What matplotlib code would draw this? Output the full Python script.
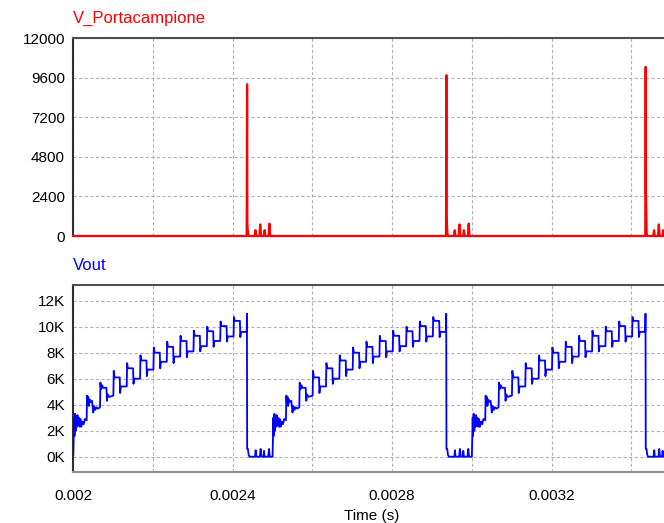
import matplotlib
matplotlib.use("Agg")
import matplotlib.pyplot as plt
import numpy as np

plt.rcParams['font.family'] = ['Liberation Sans', 'DejaVu Sans']

# ---------------- data ----------------
x_start, x_end = 0.002, 0.003482
cycle_starts = [0.0020, 0.0025, 0.0030]          # s, start of each Vout ramp

# Vout, one ramp cycle (times in microseconds from cycle start, values in kV)
vout_t_us = [0, 1, 2, 3, 4.5, 6, 7.5, 9, 10.5, 12, 14, 16, 18, 20, 23, 26, 29, 33.5,
             34.5, 36, 37.5, 39, 41, 43, 47, 50, 52, 55, 58, 62, 67,
             68, 70, 72, 75, 83, 84.5, 86, 90, 100.5,
             101.5, 103.5, 116.5, 117.5, 119.5, 134,
             135, 137, 150, 151, 153, 167.5,
             168.5, 170.5, 183.5, 184.5, 186.5, 201,
             202, 204, 217, 218, 220, 234.5,
             235.5, 237.5, 250.5, 251.5, 253.5, 268,
             269, 271, 284, 285, 287, 301.5,
             302.5, 304.5, 317.5, 318.5, 320.5, 335,
             336, 338, 351, 352, 354, 368.5,
             369.5, 371.5, 384.5, 385.5, 387.5, 402,
             403, 405, 418, 419, 421, 435,
             435.6, 436.2, 438, 440, 442, 456, 457.5, 459, 468, 470, 472,
             477, 478.5, 480, 489, 491, 493, 500]
vout_kv = [0.1, 1.5, 3.0, 1.6, 3.3, 2.0, 3.1, 2.3, 3.2, 2.4, 3.0, 2.3, 2.9, 2.3, 2.7, 2.5, 2.9, 2.8,
           4.7, 4.0, 4.6, 3.9, 4.4, 4.2, 4.3, 3.4, 3.9, 3.6, 3.8, 3.7, 3.8,
           5.7, 5.2, 5.5, 5.3, 5.3, 4.3, 4.8, 4.6, 4.7,
           6.6, 6.1, 6.1, 4.9, 5.4, 5.4,
           7.2, 6.8, 6.8, 5.6, 6.0, 6.0,
           7.8, 7.4, 7.4, 6.2, 6.7, 6.7,
           8.4, 8.0, 8.0, 6.8, 7.3, 7.3,
           8.85, 8.45, 8.45, 7.2, 7.7, 7.7,
           9.3, 8.9, 8.9, 7.65, 8.1, 8.1,
           9.7, 9.3, 9.3, 8.1, 8.5, 8.5,
           10.0, 9.65, 9.65, 8.45, 8.9, 8.9,
           10.4, 10.05, 10.05, 8.85, 9.25, 9.25,
           10.75, 10.45, 10.45, 9.2, 9.6, 9.6,
           11.0, 0.6, 0.6, 0.15, 0.0, 0.0, 0.5, 0.0, 0.0, 0.6, 0.0,
           0.0, 0.45, 0.0, 0.0, 0.6, 0.0, 0.0]

# V_Portacampione: spike at each Vout drop (times in microseconds from the drop)
drop_times = [0.002436, 0.002936, 0.003436]
spike_peak = [9200, 9750, 10250]
spike_after = [700, 1200, 2700]
red_t_us = [-1, 0, 0.7, 1.5, 2.5, 4, 19, 21, 23, 31, 33, 35, 42, 44, 46, 54, 56, 58]
red_shape = [0, None, 'a', 'b', 150, 0, 0, 350, 0, 0, 700, 0, 0, 350, 0, 0, 750, 0]

top_yticks = [0, 2400, 4800, 7200, 9600, 12000]
top_yticklabels = ['0', '2400', '4800', '7200', '9600', '12000']
bot_yticks = [0, 2000, 4000, 6000, 8000, 10000, 12000]
bot_yticklabels = ['0K', '2K', '4K', '6K', '8K', '10K', '12K']
x_ticks = [0.002, 0.0024, 0.0028, 0.0032]
x_ticklabels = ['0.002', '0.0024', '0.0028', '0.0032']
x_grid = [0.0022, 0.0024, 0.0026, 0.0028, 0.0030, 0.0032, 0.0034]

# ---------------- build series ----------------
bt, bv = [], []
for cs in cycle_starts:
    for t, v in zip(vout_t_us, vout_kv):
        bt.append(cs + t * 1e-6)
        bv.append(v * 1000)

rt, rv = [x_start], [0]
for dt, pk, af in zip(drop_times, spike_peak, spike_after):
    for t, s in zip(red_t_us, red_shape):
        if s is None:
            val = pk
        elif s == 'a':
            val = af
        elif s == 'b':
            val = af * 0.6
        else:
            val = s
        rt.append(dt + t * 1e-6)
        rv.append(val)
rt.append(0.0036)
rv.append(0)

# ---------------- figure ----------------
fig = plt.figure(figsize=(6.64, 5.23), dpi=100)
L = 73.3 / 664
ax1 = fig.add_axes([L, 1 - 236 / 523, 1 - L + 0.01, (236 - 38) / 523])
ax2 = fig.add_axes([L, 1 - 472.3 / 523, 1 - L + 0.01, (472.3 - 284.7) / 523])

ax1.plot(rt, rv, color='#ff0000', lw=1.6, clip_on=False, zorder=3)
ax2.plot(bt, bv, color='#0000ff', lw=1.3, zorder=3)

xr = x_end + 0.01 / (1 - L + 0.01) * (x_end - x_start) * 0 
for ax in (ax1, ax2):
    ax.set_xlim(x_start, x_end + (x_end - x_start) * 0.01 / (1 - L))
    ax.set_xticks(x_ticks)
    ax.set_xticks(x_grid, minor=True)
    ax.grid(True, which='both', axis='x', color='#b4b4b4', ls=(0, (3, 2)), lw=0.8)
    ax.grid(True, which='major', axis='y', color='#b4b4b4', ls=(0, (3, 2)), lw=0.8)
    ax.tick_params(which='both', length=0, labelsize=11, pad=6, colors='black')
    ax.spines['right'].set_visible(False)
    ax.spines['left'].set_color('#303030')
    ax.spines['top'].set_color('#505050')
    ax.spines['bottom'].set_color('#909090')
    for s in ('left', 'top', 'bottom'):
        ax.spines[s].set_linewidth(1.5)
    ax.set_axisbelow(True)

ax1.set_ylim(0, 12000)
ax1.set_yticks(top_yticks)
ax1.set_yticklabels(top_yticklabels)
ax1.tick_params(axis='x', labelbottom=False)

ax2.set_ylim(-1200, 13230)
ax2.set_yticks(bot_yticks)
ax2.set_yticklabels(bot_yticklabels)
ax2.set_xticklabels(x_ticklabels)
ax2.tick_params(axis='x', pad=12)
ax2.set_xlabel('Time (s)', fontsize=11, labelpad=4)

fig.text(L, 1 - 18 / 523, 'V_Portacampione', color='#ff0000', fontsize=12,
         ha='left', va='center')
fig.text(L, 1 - 266 / 523, 'Vout', color='#0000ff', fontsize=12,
         ha='left', va='center')

fig.savefig('out.png', dpi=100)
